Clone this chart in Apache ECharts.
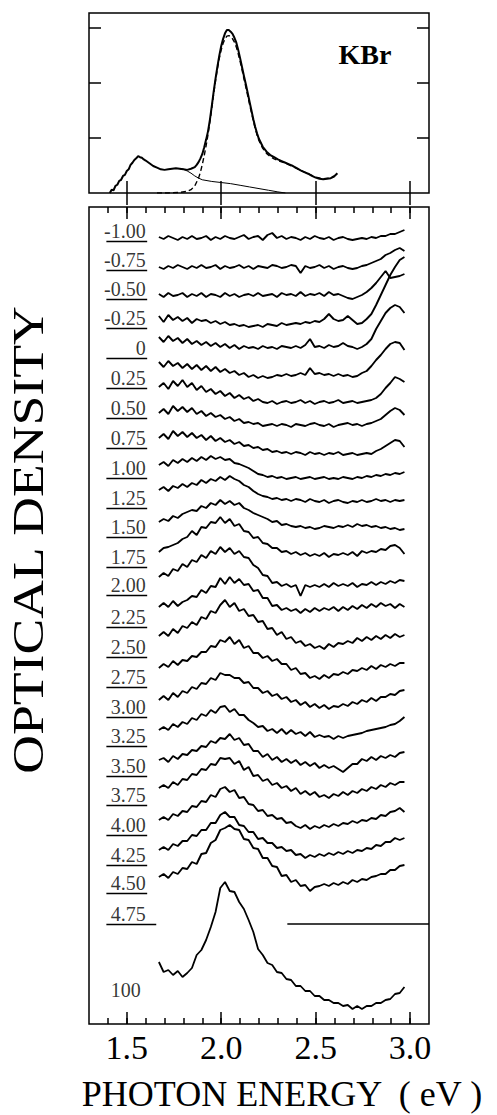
<!DOCTYPE html>
<html>
<head>
<meta charset="utf-8">
<script src="https://cdn.jsdelivr.net/npm/echarts@6.0.0/dist/echarts.min.js"></script>
<style>
html, body { margin: 0; padding: 0; background: #fff; }
#chart { width: 497px; height: 1115px; }
</style>
</head>
<body>
<div id="chart"></div>
<script>
// photon energy grid (eV) shared by the kinetic traces
var energy = [1.67,1.695,1.72,1.745,1.77,1.795,1.82,1.845,1.87,1.895,
  1.92,1.945,1.97,1.995,2.02,2.045,2.07,2.095,2.12,2.145,
  2.17,2.195,2.22,2.245,2.27,2.295,2.32,2.345,2.37,2.395,
  2.42,2.445,2.47,2.495,2.52,2.545,2.57,2.595,2.62,2.645,
  2.67,2.695,2.72,2.745,2.77,2.795,2.82,2.845,2.87,2.895,
  2.92,2.945,2.97];

// vertical offset of every trace (stacked)
var traceLevel = [786,757,729,702,677,649,622,599,571,546,523,497,469,438,413,377,346,316,286,256,227,198,167,134];

// traces, top to bottom (change in OD, arbitrary units)
var trace01 = [1,-1,2,0,-2,1,-1,2,-1,0, 2,-2,1,-1,2,0,-1,1,3,-1, 1,2,-2,3,5,0,2,-1,1,0, -2,1,-1,2,0,-1,1,-2,0,1, -1,-2,-1,0,-1,1,0,2,2,4, 4,6,8];
var trace02 = [0,-2,1,-1,2,0,-2,1,-1,2, -1,0,2,-2,1,-1,0,2,-1,1, -2,1,0,-1,2,1,-1,0,2,1, -6,1,-1,0,2,-1,1,-2,0,1, -1,-2,-1,1,2,4,6,8,12,14, 17,19,16];
var trace03 = [1,-2,2,-1,0,2,-2,1,-1,2, -2,1,0,-2,2,-1,1,-2,0,1, -1,2,-1,0,1,-2,2,0,1,-1, 3,-1,1,0,2,-1,3,0,1,-1, -3,-4,-2,0,3,7,12,18,24,17, 18,19,21];
var trace04 = [6,0,7,2,5,1,4,-1,3,1, 2,-1,1,-2,0,-3,-2,-4,-3,-5, -4,-3,-5,-2,-3,-4,-1,-3,-2,-1, -2,0,-1,1,0,3,8,3,1,2, 6,2,-2,-1,3,8,17,27,37,47, 55,62,65];
var trace05 = [10,5,11,6,9,4,8,3,6,2, 5,1,4,0,3,-1,2,-2,1,-1, 0,-2,1,-1,0,-2,1,0,-1,1, -1,2,8,0,1,-1,2,0,1,4, 1,0,-2,0,3,8,18,26,34,39, 42,40,34];
var trace06 = [13,8,14,9,12,7,11,6,10,5, 9,4,8,3,6,2,4,0,2,-2, 0,-3,-1,-3,-2,0,-1,1,-1,0, 2,0,7,1,2,0,1,-1,1,-1, 0,-2,-1,2,4,9,15,20,26,31, 33,32,25];
var trace07 = [15,19,13,21,16,22,15,19,12,16, 10,13,8,11,6,9,4,7,3,5, 1,3,0,-1,1,-2,0,1,-1,0, 2,-1,1,-2,0,1,-1,0,2,-1, 0,1,-1,0,1,2,4,8,14,19, 25,23,20];
var trace08 = [12,16,11,19,14,18,13,17,11,14, 9,12,8,10,6,8,4,6,2,3, 1,2,-1,0,1,-1,1,0,-2,1, 0,-1,1,2,0,-1,1,-2,0,1, 2,0,1,-1,1,2,4,6,10,14, 17,15,10];
var trace09 = [15,19,14,22,17,21,16,20,15,18, 13,17,12,15,11,13,9,11,7,8, 5,6,3,4,1,2,0,1,-1,1, 0,-2,1,-1,0,-2,0,-1,1,-2, -1,0,-2,-1,0,-1,2,4,7,10, 13,12,6];
var trace10 = [13,16,12,18,15,19,16,20,17,21, 18,22,19,21,18,19,15,14,12,10, 7,4,3,1,2,0,1,-1,0,1, -1,0,1,-1,0,1,-1,0,-1,1, 0,-1,1,0,2,1,3,2,4,3, 5,4,6];
var trace11 = [11,14,10,15,13,17,14,18,16,21, 18,22,20,24,21,25,22,20,16,14, 10,7,5,4,2,3,1,2,0,2, 1,-1,2,0,-1,1,-2,0,1,-1, -2,0,-1,1,-1,0,2,0,1,-1, 1,0,1];
var trace12 = [5,8,6,11,9,13,15,17,16,21, 19,24,22,27,23,26,22,24,19,17, 14,12,10,8,5,6,2,3,1,0, 1,-1,0,-2,-1,1,0,-1,1,0, 2,0,3,1,2,0,1,-1,0,-2, -1,-3,-2];
var trace13 = [3,7,8,10,12,16,18,24,20,28, 27,33,32,38,32,36,29,31,24,23, 17,18,12,11,7,7,3,4,1,3, 0,2,-1,1,-1,2,-2,1,0,2, 0,3,-1,4,2,4,3,6,5,9, 10,7,1];
var trace14 = [9,13,10,17,15,22,19,26,24,31, 28,35,32,39,34,38,32,35,29,28, 21,18,11,10,3,4,0,2,-1,1, -10,1,-1,1,-1,2,-1,3,0,2, 0,3,-1,2,1,4,1,4,2,5, 3,6,5];
var trace15 = [4,8,4,10,5,9,11,15,14,21, 18,25,24,33,27,34,28,32,26,27, 20,21,13,13,5,6,1,3,0,2, -2,2,-1,3,0,3,1,4,0,4, 1,5,2,6,3,7,4,8,5,7, 3,7,4];
var trace16 = [11,15,11,18,14,21,19,25,22,30, 28,36,34,42,47,40,44,36,38,31, 32,25,26,18,19,12,15,8,10,4, 6,1,3,-1,1,-2,3,0,4,3, 6,4,9,6,10,7,11,8,12,9, 13,10,12];
var trace17 = [10,14,11,17,13,18,17,22,21,26, 26,32,31,38,36,41,34,38,30,32, 25,25,20,22,17,19,14,14,8,10, 4,5,0,2,-1,3,0,4,3,6, 4,8,7,10,8,12,9,13,11,14, 12,15,15];
var trace18 = [8,12,8,15,11,17,15,21,19,25, 24,30,28,35,33,33,30,30,25,26, 20,20,15,17,12,14,9,11,6,8, 3,6,1,4,0,3,-1,2,1,4, 2,6,4,8,6,10,7,11,11,14, 13,17,18];
var trace19 = [8,11,8,14,11,16,14,20,18,24, 22,28,25,31,32,26,29,23,23,18, 15,11,12,7,9,5,9,4,8,4, 6,2,6,1,3,1,2,-1,2,0, 2,3,4,5,7,8,9,10,11,13, 14,17,21];
var trace20 = [8,10,6,12,9,14,13,18,17,22, 21,27,25,30,29,34,28,30,23,24, 17,17,11,14,8,11,6,9,5,8, 3,6,2,5,0,3,0,2,-1,-4, 0,4,4,9,7,11,8,12,10,13, 11,15,16];
var trace21 = [9,12,9,15,12,18,17,23,22,28, 27,33,32,39,38,39,33,36,27,30, 21,22,16,18,12,14,9,11,6,9, 3,6,2,5,0,2,-1,3,1,5, 2,6,4,8,6,10,8,12,10,14, 12,15,15];
var trace22 = [6,9,6,12,10,15,14,20,19,25, 24,31,29,37,39,34,36,28,29,22, 21,15,16,10,11,7,8,3,4,0, -2,1,-3,0,-2,1,-1,2,0,3, 2,5,3,6,5,8,7,11,10,14, 15,18,14];
var trace23 = [7,10,7,13,11,16,16,22,21,27, 27,34,34,42,45,40,40,32,31,25, 25,18,19,14,14,9,10,6,7,2, 3,-1,2,0,3,1,4,2,5,3, 6,4,7,6,9,8,12,11,15,15, 19,17,19];
var trace24 = [13,16,12,18,16,22,21,28,26,36, 37,47,50,60,62,65,61,60,51,50, 42,41,32,32,24,23,14,15,8,10, 4,5,-1,3,4,6,4,7,5,8, 6,10,8,11,10,13,14,16,16,20, 20,24,25];

// long-delay (100) spectrum and its offset
var trace100 = [46,36,38,33,37,31,35,40,53,58, 68,81,96,120,126,117,116,106,99,88, 76,59,53,45,43,36,35,29,28,22, 22,17,17,12,12,8,8,5,5,2, 3,-1,2,-1,2,2,5,5,8,9, 14,15,21];
var trace100Level = 16;

// reference baseline next to the 4.75 label
var refLineEnergy = [2.35, 3.1];
var refLineLevel = 100;

// delay labels and their underline levels
var rowLabels = ['-1.00','-0.75','-0.50','-0.25','0','0.25','0.50','0.75','1.00','1.25','1.50','1.75',
  '2.00','2.25','2.50','2.75','3.00','3.25','3.50','3.75','4.00','4.25','4.50','4.75','100'];
var labelLevel = [783,754,725,696,666,636,606,576,546,516,487,457,429,397,367,337,307,278,248,219,189,159,131,100,24];

// upper panel: steady-state absorption of KBr (OD)
var topMeasured = [[1.41,0.00],[1.42,0.06],[1.43,0.05],[1.44,0.13],[1.45,0.15],[1.46,0.22],[1.47,0.24],[1.48,0.31],
  [1.49,0.33],[1.50,0.40],[1.51,0.43],[1.52,0.51],[1.53,0.55],[1.54,0.60],[1.55,0.63],[1.56,0.67],[1.57,0.65],
  [1.58,0.64],[1.59,0.61],[1.60,0.59],[1.62,0.54],[1.64,0.49],[1.66,0.46],[1.68,0.43],[1.70,0.42],[1.72,0.43],
  [1.74,0.44],[1.76,0.45],[1.78,0.44],[1.80,0.43],[1.82,0.42],[1.84,0.44],[1.86,0.47],[1.87,0.51],[1.88,0.56],
  [1.89,0.63],[1.90,0.71],[1.91,0.83],[1.92,0.97],[1.93,1.12],[1.94,1.33],[1.95,1.58],[1.96,1.84],[1.97,2.08],
  [1.98,2.30],[1.99,2.50],[2.00,2.67],[2.01,2.80],[2.02,2.90],[2.03,2.96],[2.04,2.96],[2.05,2.93],[2.06,2.89],
  [2.07,2.82],[2.08,2.73],[2.09,2.60],[2.10,2.45],[2.11,2.29],[2.12,2.13],[2.13,1.98],[2.14,1.82],[2.15,1.66],
  [2.16,1.50],[2.17,1.34],[2.18,1.20],[2.19,1.08],[2.20,0.98],[2.22,0.84],[2.24,0.75],[2.26,0.69],[2.28,0.65],
  [2.30,0.61],[2.32,0.58],[2.34,0.55],[2.36,0.52],[2.38,0.49],[2.40,0.45],[2.42,0.41],[2.44,0.38],[2.46,0.35],
  [2.48,0.31],[2.50,0.28],[2.52,0.26],[2.54,0.25],[2.56,0.26],[2.58,0.27],[2.60,0.31],[2.615,0.36]];
var topFit = [[1.66,0.00],[1.72,0.00],[1.78,0.01],[1.82,0.03],[1.84,0.06],[1.86,0.13],[1.88,0.27],[1.89,0.38],
  [1.90,0.52],[1.91,0.68],[1.92,0.86],[1.93,1.06],[1.94,1.29],[1.95,1.54],[1.96,1.80],[1.97,2.04],[1.98,2.26],
  [1.99,2.45],[2.00,2.60],[2.01,2.72],[2.02,2.80],[2.03,2.85],[2.04,2.86],[2.05,2.84],[2.06,2.80],[2.07,2.74],
  [2.08,2.65],[2.09,2.53],[2.10,2.39],[2.11,2.24],[2.12,2.08],[2.13,1.93],[2.14,1.77],[2.15,1.61],[2.16,1.46],
  [2.17,1.31],[2.18,1.17],[2.19,1.05],[2.20,0.95],[2.22,0.81],[2.24,0.72],[2.26,0.66],[2.28,0.62],[2.30,0.59],
  [2.34,0.54],[2.38,0.48],[2.42,0.41],[2.46,0.35],[2.50,0.29],[2.54,0.26],[2.58,0.27],[2.60,0.30]];
var topBand = [[1.78,0.44],[1.80,0.43],[1.82,0.40],[1.84,0.36],[1.86,0.31],[1.88,0.27],[1.90,0.24],[1.95,0.21],
  [2.00,0.19],[2.05,0.17],[2.10,0.14],[2.15,0.11],[2.20,0.08],[2.25,0.05],[2.30,0.02],[2.34,0.00]];

// tick positions
var majorTicks = [1.5, 2.0, 2.5, 3.0];
var minorTicks = [1.4,1.5,1.6,1.7,1.8,1.9,2.0,2.1,2.2,2.3,2.4,2.5,2.6,2.7,2.8,2.9,3.0];
var topYTicks = [1, 2, 3];

var SERIF = '"Liberation Serif", "DejaVu Serif", serif';
var traces = [trace01,trace02,trace03,trace04,trace05,trace06,trace07,trace08,trace09,trace10,trace11,trace12,
  trace13,trace14,trace15,trace16,trace17,trace18,trace19,trace20,trace21,trace22,trace23,trace24];

var chart = echarts.init(document.getElementById('chart'), null, { renderer: 'svg' });

function xAxisOf(grid, pos, ticks, len, withLabels) {
  return {
    type: 'value', gridIndex: grid, position: pos, min: 1.3, max: 3.1,
    axisLine: { show: false },
    splitLine: { show: false },
    axisTick: { show: true, inside: true, length: len, customValues: ticks,
      lineStyle: { color: '#000', width: 1.5 } },
    axisLabel: withLabels ? {
      show: true, customValues: majorTicks, margin: 6,
      formatter: function (v) { return v.toFixed(1); },
      fontFamily: SERIF, fontSize: 34, color: '#000'
    } : { show: false }
  };
}

function traceSeries(values, level, width) {
  return {
    type: 'line', xAxisIndex: 2, yAxisIndex: 2, symbol: 'none', silent: true,
    data: energy.map(function (e, i) { return [e, level + values[i]]; }),
    lineStyle: { color: '#000', width: width }
  };
}

var series = [
  { type: 'line', xAxisIndex: 0, yAxisIndex: 0, symbol: 'none', silent: true, data: topMeasured,
    lineStyle: { color: '#000', width: 2 } },
  { type: 'line', xAxisIndex: 0, yAxisIndex: 0, symbol: 'none', silent: true, data: topFit,
    lineStyle: { color: '#000', width: 1.4, type: [5, 3] } },
  { type: 'line', xAxisIndex: 0, yAxisIndex: 0, symbol: 'none', silent: true, data: topBand,
    lineStyle: { color: '#000', width: 1 } }
];
traces.forEach(function (t, i) { series.push(traceSeries(t, traceLevel[i], 1.9)); });
series.push(traceSeries(trace100, trace100Level, 1.8));
series.push({
  type: 'line', xAxisIndex: 2, yAxisIndex: 2, symbol: 'none', silent: true,
  data: refLineEnergy.map(function (e) { return [e, refLineLevel]; }),
  lineStyle: { color: '#000', width: 1.4 }
});
series.push({
  type: 'scatter', xAxisIndex: 2, yAxisIndex: 2, symbolSize: 1, silent: true,
  itemStyle: { color: 'rgba(0,0,0,0)' },
  data: rowLabels.map(function (t, i) {
    return { name: t, value: [t === '100' ? 1.577 : 1.603, labelLevel[i]] };
  }),
  label: { show: true, position: [0, 0], align: 'right', verticalAlign: 'bottom',
    formatter: '{b}', fontFamily: SERIF, fontSize: 20, color: '#000' },
  markLine: {
    silent: true, symbol: ['none', 'none'], animation: false,
    label: { show: false },
    lineStyle: { color: '#000', width: 1.4, type: 'solid' },
    data: rowLabels.filter(function (t) { return t !== '100'; }).map(function (t, i) {
      return [{ coord: [1.392, labelLevel[i]] }, { coord: [t === '4.75' ? 1.656 : 1.608, labelLevel[i]] }];
    })
  }
});

var option = {
  animation: false,
  backgroundColor: '#fff',
  grid: [
    { left: 89, top: 13, width: 340, height: 180, show: true, borderColor: '#000', borderWidth: 1.5,
      outerBoundsMode: 'none' },
    { left: 89, top: 207, width: 340, height: 817, show: true, borderColor: '#000', borderWidth: 1.5,
      outerBoundsMode: 'none' },
    { left: 89, top: 207, width: 340, height: 817, show: false, outerBoundsMode: 'none' }
  ],
  xAxis: [
    xAxisOf(0, 'bottom', majorTicks, 12, false),
    xAxisOf(0, 'top', majorTicks, 12, false),
    xAxisOf(1, 'bottom', majorTicks, 12, true),
    xAxisOf(1, 'top', majorTicks, 12, false),
    xAxisOf(2, 'bottom', minorTicks, 6, false),
    xAxisOf(2, 'top', minorTicks, 6, false)
  ],
  yAxis: [
    { type: 'value', gridIndex: 0, position: 'left', min: 0, max: 3.27,
      axisLine: { show: false }, splitLine: { show: false }, axisLabel: { show: false },
      axisTick: { show: true, inside: true, length: 12, customValues: topYTicks,
        lineStyle: { color: '#000', width: 1.5 } } },
    { type: 'value', gridIndex: 0, position: 'right', min: 0, max: 3.27,
      axisLine: { show: false }, splitLine: { show: false }, axisLabel: { show: false },
      axisTick: { show: true, inside: true, length: 12, customValues: topYTicks,
        lineStyle: { color: '#000', width: 1.5 } } },
    { type: 'value', gridIndex: 1, min: 0, max: 817, show: false },
    { type: 'value', gridIndex: 2, min: 0, max: 817, show: false }
  ],
  graphic: [
    { type: 'text', x: 365, y: 54, z: 100,
      style: { text: 'KBr', font: 'bold 28px ' + SERIF, fill: '#000',
        align: 'center', verticalAlign: 'middle', textAlign: 'center', textVerticalAlign: 'middle' } },
    { type: 'text', x: 28, y: 540, rotation: Math.PI / 2, scaleX: 1.22, z: 100,
      style: { text: 'OPTICAL DENSITY', font: '44px ' + SERIF, fill: '#000',
        align: 'center', verticalAlign: 'middle', textAlign: 'center', textVerticalAlign: 'middle' } },
    { type: 'text', x: 282, y: 1094, z: 100,
      style: { text: 'PHOTON ENERGY  ( eV )', font: '36px ' + SERIF, fill: '#000',
        align: 'center', verticalAlign: 'middle', textAlign: 'center', textVerticalAlign: 'middle' } }
  ],
  series: series
};

chart.setOption(option);
window.onresize = chart.resize;
</script>
</body>
</html>
